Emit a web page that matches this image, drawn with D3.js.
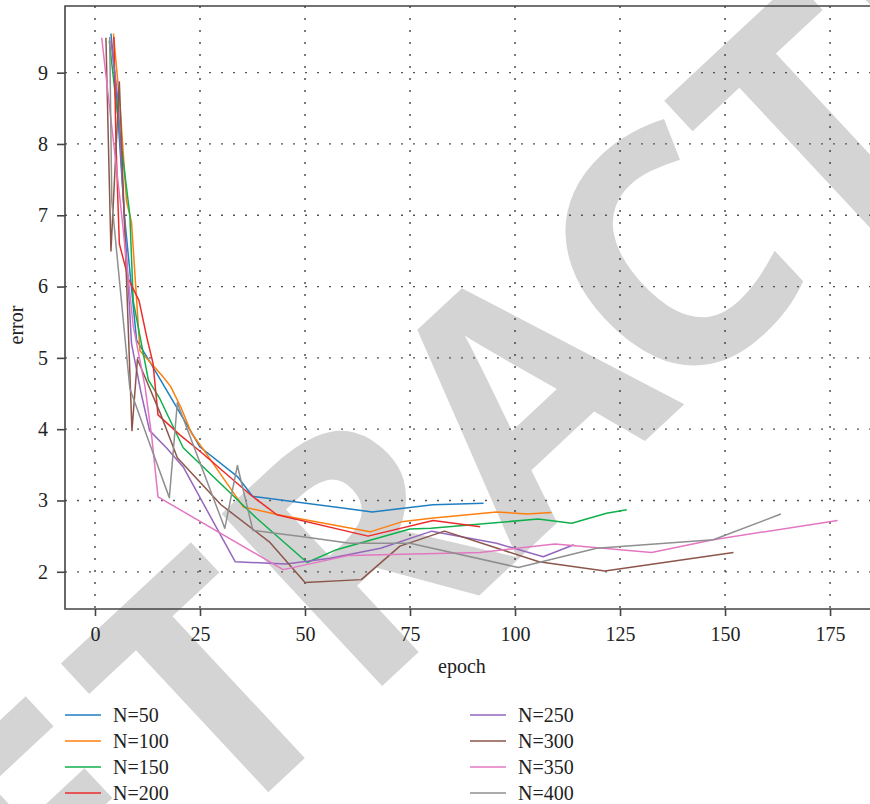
<!DOCTYPE html>
<html>
<head>
<meta charset="utf-8">
<script src="https://cdn.jsdelivr.net/npm/d3@7"></script>
<style>
  body { margin: 0; background: #fff; }
  svg { display: block; }
  text { font-family: "Liberation Serif", "Times New Roman", serif; }
</style>
</head>
<body>
<div id="chart"></div>
<script>
// series
const seriesNames = ["N=50", "N=100", "N=150", "N=200", "N=250", "N=300", "N=350", "N=400"];
const colors = ["#1f7fc0", "#ff7f0e", "#0fb04c", "#ec2c2c", "#9467bd", "#8c564b", "#e377c2", "#8f8f8f"];

const epochN50  = [3.8, 5, 7, 9.9, 13, 19, 25, 34, 37.5, 66, 80.5, 92.5];
const errorN50  = [9.55, 8.8, 7.0, 5.25, 4.95, 4.35, 3.75, 3.33, 3.06, 2.84, 2.94, 2.96];

const epochN100 = [4.4, 6, 7.5, 8.7, 10.7, 16, 18, 20.5, 23, 26, 35.3, 43.6, 65.5, 73, 80, 95.6, 103, 108.7];
const errorN100 = [9.55, 8.5, 7.2, 6.9, 5.1, 4.75, 4.6, 4.3, 3.94, 3.7, 2.91, 2.8, 2.56, 2.7, 2.75, 2.84, 2.81, 2.83];

const epochN150 = [3.4, 5, 8.3, 9.1, 12.7, 15.5, 21, 38.5, 50.5, 57.5, 75, 80, 105.5, 113.5, 121.8, 126.6];
const errorN150 = [9.45, 8.6, 7.0, 5.8, 4.69, 4.42, 3.74, 2.75, 2.13, 2.31, 2.6, 2.61, 2.74, 2.68, 2.82, 2.87];

const epochN200 = [4.5, 5, 5.8, 8, 10.5, 12.4, 13.8, 15, 20.2, 25, 37, 43.3, 65, 80.5, 91.7];
const errorN200 = [9.5, 8.0, 6.6, 6.1, 5.8, 5.27, 4.93, 4.2, 3.92, 3.69, 3.08, 2.8, 2.5, 2.72, 2.63];

const epochN250 = [3.8, 5.5, 6.5, 8.7, 11, 13, 17, 21, 33.4, 45.5, 56, 68, 80.2, 95.6, 106.7, 114];
const errorN250 = [9.45, 8.6, 7.5, 5.2, 4.5, 3.98, 3.74, 3.47, 2.14, 2.11, 2.19, 2.33, 2.57, 2.4, 2.21, 2.38];

const epochN300 = [2.6, 3.8, 5.8, 8.8, 10.1, 15.7, 19.6, 30, 41.5, 50, 63.4, 72.6, 83.2, 105.7, 121.4, 152];
const errorN300 = [9.49, 6.5, 8.87, 3.98, 4.98, 4.2, 3.6, 2.94, 2.42, 1.85, 1.89, 2.36, 2.57, 2.14, 2.01, 2.27];

const epochN350 = [1.6, 3.5, 6, 9.1, 11.9, 13.5, 15, 44.8, 60.5, 91.7, 109.5, 132.5, 147.2, 176.8];
const errorN350 = [9.49, 8.5, 7.2, 5.45, 4.6, 3.9, 3.05, 2.03, 2.23, 2.27, 2.39, 2.27, 2.45, 2.72];

const epochN400 = [3.5, 4, 8.3, 13, 17.7, 19.6, 30.9, 33.9, 37.6, 49.5, 60.7, 75, 100.8, 119.4, 147.2, 163.3];
const errorN400 = [9.5, 7.2, 4.57, 3.8, 3.04, 4.37, 2.61, 3.49, 2.58, 2.49, 2.4, 2.4, 2.06, 2.33, 2.45, 2.81];

const epochs = [epochN50, epochN100, epochN150, epochN200, epochN250, epochN300, epochN350, epochN400];
const errors = [errorN50, errorN100, errorN150, errorN200, errorN250, errorN300, errorN350, errorN400];

const xTicks = [0, 25, 50, 75, 100, 125, 150, 175];
const yTicks = [2, 3, 4, 5, 6, 7, 8, 9];

const W = 870, H = 804;
const serif = "'Liberation Serif', 'Times New Roman', serif";
const svg = d3.select("#chart").append("svg")
    .attr("width", W)
    .attr("height", H);

// watermark behind everything, one letter at a time along a slanted baseline
const stampWord = "RETRACTED";
const stampOffsets = [-860, -640, -430, -220, 0, 200, 395, 585, 790];  // along the baseline, from the A
const stampAngle = 43, stampSize = 330;
let ca = Math.cos(stampAngle * Math.PI / 180), sa = Math.sin(stampAngle * Math.PI / 180);
svg.append("g")
    .selectAll("text")
    .data(stampWord.split(""))
    .join("text")
        .attr("transform", (d, i) => {
            let cx = 520 + stampOffsets[i] * ca;
            let cy = 395 - stampOffsets[i] * sa;
            return "translate(" + cx + "," + cy + ") rotate(" + (-stampAngle) + ")";
        })
        .attr("text-anchor", "middle")
        .attr("y", 0.36 * stampSize)
        .style("font-family", "'Open Sans', sans-serif")
        .style("font-weight", "bold")
        .style("font-size", stampSize + "px")
        .attr("fill", "#d4d4d4")
        .text(d => d);

let x = d3.scaleLinear().domain([-7.14, 185.7]).range([65, 875]);
let y = d3.scaleLinear().domain([1.478, 9.935]).range([609, 6]);

// grid
svg.append("g")
    .selectAll("line")
    .data(xTicks)
    .join("line")
        .attr("x1", d => x(d)).attr("x2", d => x(d))
        .attr("y1", y.range()[1]).attr("y2", y.range()[0])
        .attr("stroke", "#333")
        .attr("stroke-width", 1.3)
        .attr("stroke-dasharray", "2,10");

svg.append("g")
    .selectAll("line")
    .data(yTicks)
    .join("line")
        .attr("x1", x.range()[0]).attr("x2", x.range()[1])
        .attr("y1", d => y(d)).attr("y2", d => y(d))
        .attr("stroke", "#555")
        .attr("stroke-width", 1.3)
        .attr("stroke-dasharray", "2,10");

// lines
let line = d3.line().x(d => x(d[0])).y(d => y(d[1]));

epochs.forEach((ep, i) => {
    svg.append("path")
        .datum(ep.map((e, j) => [e, errors[i][j]]))
        .attr("fill", "none")
        .attr("stroke", colors[i])
        .attr("stroke-width", 1.5)
        .attr("stroke-linejoin", "round")
        .attr("d", line);
});

// frame
svg.append("path")
    .attr("d", `M${x.range()[1]},${y.range()[1]}H${x.range()[0]}V${y.range()[0]}H${x.range()[1]}`)
    .attr("fill", "none")
    .attr("stroke", "#444")
    .attr("stroke-width", 1.6);

let xAxis = svg.append("g")
    .attr("transform", "translate(0," + y.range()[0] + ")")
    .call(d3.axisBottom(x).tickValues(xTicks).tickSize(7).tickPadding(11));
let yAxis = svg.append("g")
    .attr("transform", "translate(" + x.range()[0] + ",0)")
    .call(d3.axisLeft(y).tickValues(yTicks).tickSize(8).tickPadding(9));

[xAxis, yAxis].forEach(a => {
    a.attr("font-family", null);
    a.select(".domain").remove();
    a.selectAll(".tick line").attr("stroke", "#444").attr("stroke-width", 1.6);
    a.selectAll("text")
        .style("font-family", serif)
        .style("font-size", "20px")
        .attr("fill", "#222");
});

svg.append("text")
    .attr("x", 462).attr("y", 673)
    .attr("text-anchor", "middle")
    .style("font-family", serif)
    .style("font-size", "20px")
    .attr("fill", "#222")
    .text("epoch");

svg.append("text")
    .attr("transform", "translate(23,325) rotate(-90)")
    .attr("text-anchor", "middle")
    .style("font-family", serif)
    .style("font-size", "20px")
    .attr("fill", "#222")
    .text("error");

// legend, two columns of four
let legend = svg.append("g");
seriesNames.forEach((name, i) => {
    let col = Math.floor(i / 4), row = i % 4;
    let lx = col == 0 ? 65 : 470;
    let ly = 715 + row * 26;
    legend.append("line")
        .attr("x1", lx).attr("x2", lx + 36)
        .attr("y1", ly).attr("y2", ly)
        .attr("stroke", colors[i])
        .attr("stroke-width", 1.5);
    legend.append("text")
        .attr("x", lx + 48).attr("y", ly + 7)
        .style("font-family", serif)
        .style("font-size", "20px")
        .attr("fill", "#222")
        .text(name);
});
</script>
</body>
</html>
